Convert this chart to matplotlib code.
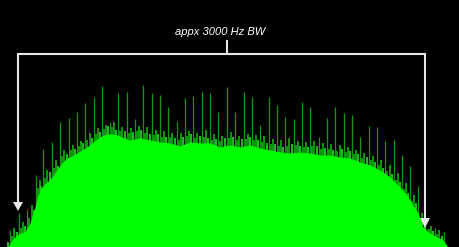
import matplotlib
matplotlib.use("Agg")
import matplotlib.pyplot as plt

# ---- data (in image rows from the top) ----
body_x = [8, 12, 16, 20, 25, 30, 35, 38, 42, 47, 52, 57, 62, 67, 72, 77, 82, 87, 92, 97,
          102, 107, 112, 117, 122, 130, 140, 150, 160, 170, 180, 190, 200, 210, 220, 230,
          240, 250, 260, 270, 280, 290, 300, 310, 320, 330, 340, 350, 360, 370, 380, 390,
          400, 405, 410, 414, 418, 423, 427, 430, 437, 443, 448]
body_top = [247, 240, 236, 233, 232, 223, 207, 195, 187, 182, 177, 170, 163, 158, 156, 153,
            150, 147, 143, 139, 136, 134, 134, 135, 137, 140, 138, 140, 142, 143, 146, 142,
            143, 143, 147, 145, 147, 145, 148, 150, 152, 153, 152, 153, 155, 155, 157, 158,
            162, 165, 170, 177, 187, 193, 200, 207, 213, 227, 231, 233, 237, 240, 247]

spike_x = [10, 19, 27, 36, 43, 52, 60, 69, 77, 85, 94, 102, 110, 118, 127, 135, 143, 152,
           160, 168, 177, 185, 193, 202, 210, 218, 227, 235, 244, 252, 260, 269, 277, 285,
           294, 302, 310, 319, 327, 335, 344, 352, 360, 369, 377, 385, 394, 402, 410, 418,
           427, 435, 444]
spike_top = [230, 213, 210, 175, 149, 142, 122, 118, 112, 103, 97, 86, 122, 93, 92, 119, 85,
             93, 95, 107, 121, 98, 96, 92, 93, 112, 87, 112, 92, 97, 125, 97, 105, 117, 119,
             102, 107, 137, 118, 107, 113, 115, 137, 126, 127, 141, 140, 155, 166, 186, 229,
             228, 232]

minor_x = [14, 23, 32, 40, 47, 56, 64, 73, 81, 90, 98, 106, 114, 122, 131, 139, 147, 156,
           164, 172, 181, 189, 197, 206, 214, 222, 231, 239, 248, 256, 264, 273, 281, 289,
           298, 306, 314, 323, 331, 340, 348, 356, 364, 373, 381, 390, 398, 406, 414, 422,
           431, 439]
minor_top = [228, 222, 205, 180, 170, 160, 150, 145, 141, 133, 128, 125, 122, 127, 128, 126,
             127, 130, 131, 133, 133, 131, 133, 130, 134, 136, 132, 136, 134, 135, 136, 139,
             140, 138, 141, 142, 141, 143, 144, 145, 147, 150, 153, 156, 160, 165, 173, 183,
             195, 213, 226, 230]

minor2_x = [12, 21, 29, 38, 45, 54, 62, 71, 79, 87, 96, 104, 112, 120, 129, 137, 145, 154,
            162, 170, 179, 187, 195, 204, 212, 220, 229, 237, 246, 254, 262, 271, 279, 287,
            296, 304, 312, 321, 329, 337, 346, 354, 362, 371, 379, 387, 396, 404, 412, 420,
            429, 437]
minor2_top = [236, 228, 218, 188, 178, 168, 156, 150, 146, 140, 134, 129, 127, 131, 133, 131,
              133, 135, 137, 137, 140, 136, 138, 137, 140, 141, 138, 140, 139, 140, 142, 144,
              146, 146, 145, 147, 146, 149, 149, 151, 152, 154, 158, 160, 165, 171, 180, 189,
              201, 218, 229, 234]

minor3_x = [8, 17, 25, 34, 41, 50, 58, 67, 75, 83, 92, 100, 108, 116, 125, 133, 141, 150,
            158, 166, 175, 183, 191, 200, 208, 216, 225, 233, 242, 250, 258, 267, 275, 283,
            292, 300, 308, 317, 325, 333, 342, 350, 358, 367, 375, 383, 392, 400, 408, 416,
            425, 433, 442]
minor3_top = [242, 232, 226, 210, 186, 172, 166, 154, 149, 143, 138, 132, 126, 130, 131, 132,
              130, 134, 134, 137, 138, 137, 134, 136, 138, 139, 138, 137, 139, 137, 140, 143,
              144, 147, 144, 146, 147, 146, 148, 150, 149, 151, 154, 157, 162, 168, 174, 182,
              193, 203, 222, 231, 236]

label = "appx 3000 Hz BW"

# ---- figure ----
W, H = 460, 247
fig = plt.figure(figsize=(W / 100, H / 100), dpi=100, facecolor="black")
ax = fig.add_axes([0, 0, 1, 1])
ax.set_facecolor("black")
ax.set_xlim(0, W)
ax.set_ylim(H, 0)
ax.axis("off")

GREEN = "#00ff00"
DARK = "#0c9a0c"

ax.vlines(spike_x, H, spike_top, color=DARK, linewidth=0.9, zorder=2)
ax.vlines(minor_x, H, minor_top, color=DARK, linewidth=1.4, zorder=2)
ax.vlines(minor2_x, H, minor2_top, color="#10b010", linewidth=1.2, zorder=2)
ax.vlines(minor3_x, H, minor3_top, color="#22e022", linewidth=1.2, zorder=2)
ax.fill_between(body_x, body_top, H, color=GREEN, linewidth=0, zorder=3)

# ---- bracket annotation ----
WHITE = "#e6e6e6"
lw = 1.5
ax.plot([18, 425], [54, 54], color=WHITE, linewidth=lw, solid_capstyle="butt", zorder=5)
ax.plot([227, 227], [41, 54], color=WHITE, linewidth=lw, zorder=5)
ax.plot([18, 18], [54, 203], color=WHITE, linewidth=lw, zorder=5)
ax.plot([425, 425], [54, 219], color=WHITE, linewidth=lw, zorder=5)
ax.fill([13, 23, 18], [202, 202, 211], color=WHITE, zorder=5, linewidth=0)
ax.fill([420, 430, 425], [218, 218, 228], color=WHITE, zorder=5, linewidth=0)
ax.text(220, 32, label, color="white", fontsize=8, style="italic",
        family=["Liberation Sans", "DejaVu Sans"], ha="center", va="center", zorder=6)

fig.savefig("out.png", dpi=100, facecolor="black")
